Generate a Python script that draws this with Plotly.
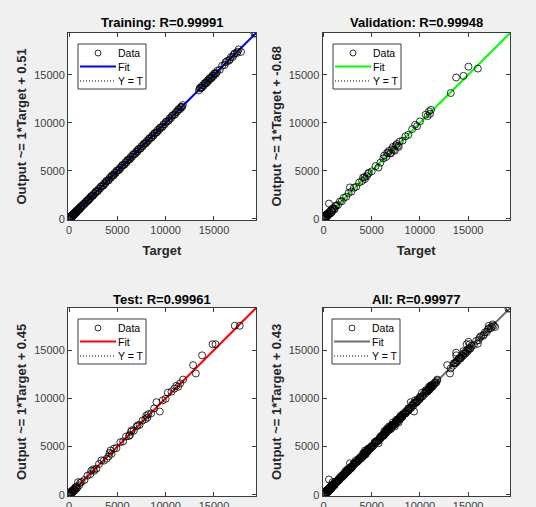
import plotly.graph_objects as go

# ---------------- data ----------------
train_target = [0, 5, 12, 20, 30, 45, 60, 75, 90, 110, 130, 150, 175, 200, 230, 260, 290, 320, 360, 400,
                440, 480, 520, 570, 620, 670, 720, 780, 840, 900, 960, 1020, 1090, 1160, 1230, 1300, 1380, 1460,
                1540, 1630, 1720, 1810, 1900, 2000, 2100, 2210, 2320, 2440, 2560, 2690, 2820, 2950, 3080, 3210,
                3350, 3490, 3630, 3770, 3910, 4050, 4190, 4330, 4470, 4600, 4720, 4850, 4980, 5120, 5260, 5400,
                5540, 5680, 5820, 5960, 6100, 6240, 6380, 6520, 6660, 6800, 6940, 7080, 7220, 7360, 7500, 7640,
                7780, 7920, 8060, 8200, 8340, 8480, 8620, 8760, 8900, 9040, 9180, 9320, 9460, 9600, 9760, 9920,
                10080, 10240, 10400, 10560, 10720, 10880, 11040, 11200, 11350, 11480, 11600, 11700, 11780,
                13450, 13580, 13700, 13820, 13950, 14080, 14200, 14330, 14460, 14580, 14700, 14820, 14950, 15080,
                15200, 15350, 15600, 15850, 16100, 16350, 16550, 16750, 16950, 17150, 17350, 17550, 17800, 19300,
                2050, 2270, 2500, 2750, 3000, 3280, 3560, 3840, 4120, 4400, 4660, 4920, 5190, 5470, 5750, 6030,
                6310, 6590, 6870, 7150, 7430, 7710, 7990, 8270, 8550, 8830, 9110, 9390, 9680, 10000, 10320,
                10640, 10960, 11280, 11550,
                15, 35, 55, 100, 140, 190, 250, 340, 420, 600, 750, 1000,
                13520, 13760, 14020, 14270, 14520, 14760, 15000, 15250, 16200, 16650, 17050, 17450, 19200]
train_output = [-110, 140, 30, -60, 210, 90, -20, 170, 40, 250, 60, 190, 90, 310, 150, 240, 380, 260, 450, 330,
                520, 400, 610, 480, 700, 590, 820, 690, 930, 820, 1060, 950, 1180, 1070, 1320, 1240, 1450, 1400,
                1620, 1560, 1790, 1750, 1980, 1930, 2160, 2150, 2400, 2390, 2620, 2650, 2900, 2880, 3150, 3160,
                3420, 3430, 3700, 3720, 3980, 3990, 4270, 4280, 4560, 4520, 4800, 4790, 5050, 5060, 5330, 5350,
                5620, 5610, 5900, 5890, 6170, 6180, 6460, 6450, 6730, 6740, 7020, 7010, 7290, 7300, 7580, 7570,
                7850, 7860, 8140, 8130, 8410, 8420, 8700, 8690, 8970, 8980, 9260, 9250, 9530, 9540, 9840, 9850,
                10150, 10180, 10470, 10500, 10800, 10820, 11110, 11150, 11430, 11420, 11680, 11640, 11850,
                13380, 13660, 13640, 13900, 13870, 14170, 14120, 14420, 14380, 14670, 14610, 14900, 14860, 15170,
                15110, 15430, 15520, 15950, 16020, 16440, 16470, 16840, 16860, 17240, 17260, 17650, 17380, 19350,
                1990, 2330, 2440, 2820, 2930, 3350, 3490, 3910, 4050, 4470, 4590, 4990, 5120, 5540, 5680, 6100,
                6240, 6660, 6800, 7220, 7360, 7780, 7920, 8340, 8480, 8900, 9040, 9460, 9610, 10070, 10250,
                10710, 10890, 11350, 11600,
                60, -30, 110, 20, 230, 120, 150, 410, 300, 650, 700, 1010,
                13600, 13700, 14100, 14200, 14600, 14700, 15080, 15200, 16300, 16600, 17120, 17400, 19280]

val_target = [0, 20, 50, 80, 110, 150, 200, 250, 310, 380, 450, 560, 600, 700, 800, 900, 1000, 1150, 1300,
              1500, 1700, 1900, 2100, 2350, 2600, 2740, 2900, 3150, 3400, 3700, 4000, 4250, 4500, 4700, 5000,
              5400, 5700, 5900, 6200, 6500, 6700, 6900, 7100, 7300, 7500, 7700, 7900, 8200, 8500, 8800, 9200,
              9500, 9700, 10000, 10600, 10800, 10950, 11050, 11150, 13200, 13760, 14520, 15040, 16010,
              10, 30, 60, 95, 130, 180, 230, 280, 350, 420, 500, 650, 750, 850, 950, 1100, 1250,
              4100, 4300, 4600, 6300, 6600, 6800, 7000, 7200, 7400, 7600, 7800]
val_output = [-80, 150, 40, 260, 120, 330, 180, 420, 260, 520, 380, 1600, 720, 560, 950, 820, 1120, 1050, 1400,
              1450, 1820, 1850, 2200, 2300, 2700, 3280, 2850, 3250, 3350, 3800, 3950, 4350, 4450, 4800, 4950,
              5500, 5350, 5850, 6300, 6450, 6850, 6800, 7250, 7200, 7650, 7600, 8050, 8150, 8600, 8750, 9350,
              9800, 9650, 10150, 10850, 10700, 11200, 10950, 11350, 13100, 14720, 14890, 15850, 15650,
              90, -40, 200, 60, 240, 70, 350, 160, 480, 300, 620, 560, 880, 700, 1040, 980, 1330,
              4300, 4150, 4700, 6600, 6900, 7100, 6850, 7500, 7100, 7800, 7500]

test_target = [0, 20, 50, 80, 120, 170, 230, 300, 380, 470, 560, 660, 780, 930, 1050, 1300, 1600, 1900, 2200,
               2500, 2830, 3100, 3350, 3600, 3900, 4200, 4400, 4650, 4900, 5300, 5600, 5900, 6200, 6400, 6700,
               7000, 7300, 7600, 7900, 8200, 8500, 8800, 9050, 9390, 9700, 10000, 10220, 10600, 10900, 11100,
               11300, 11500, 11800, 12840, 13120, 13770, 14850, 15160, 17150, 17670,
               10, 35, 65, 100, 140, 200, 260, 340, 420, 520, 610, 720, 850, 1150,
               2300, 2600, 4100, 4300, 6300, 6500, 7100, 8000, 8100]
test_output = [-60, 120, 30, 230, 90, 300, 180, 420, 300, 560, 450, 780, 680, 1320, 1000, 1350, 1550, 2000, 2150,
               2650, 2720, 3200, 3580, 3550, 3750, 4350, 4250, 4800, 4850, 5450, 5550, 6050, 6100, 6550, 6650,
               7100, 7250, 7700, 7850, 8350, 8450, 8950, 9600, 8630, 9800, 9950, 10580, 10700, 11000, 11300,
               11200, 11550, 11940, 13440, 12570, 14450, 15600, 15600, 17510, 17510,
               150, -40, 80, 220, 40, 330, 140, 450, 330, 620, 520, 850, 760, 1250,
               2500, 2500, 4000, 4600, 6200, 6700, 7200, 8200, 8000]

all_target = train_target + val_target + test_target
all_output = train_output + val_output + test_output

panel_titles = ["Training: R=0.99991", "Validation: R=0.99948", "Test: R=0.99961", "All: R=0.99977"]
fit_slope = [1, 1, 1, 1]
fit_intercept = [0.51, -0.68, 0.45, 0.43]
fit_colors = ["#0000ff", "#00ff00", "#ff0000", "#6e6e6e"]
tick_vals = [0, 5000, 10000, 15000]
tick_text = ["0", "5000", "10000", "15000"]
legend_labels = ["Data", "Fit", "Y = T"]

targets = [train_target, val_target, test_target, all_target]
outputs = [train_output, val_output, test_output, all_output]

# ---------------- layout geometry (pixels -> paper) ----------------
W, H = 536, 507
px = lambda v: v / W
py = lambda v: 1 - v / H

x_dom = [[px(68), px(256)], [px(322.5), px(510)], [px(68), px(256)], [px(322.5), px(510)]]
y_dom = [[py(220), py(33)], [py(220), py(33)], [py(496), py(308)], [py(496), py(308)]]
title_y = [py(22.5), py(22.5), py(299), py(299)]
ylab_x = [px(21), px(276), px(21), px(276)]
legend_box = [(78, 44), (333, 44), (78, 319), (332, 319)]   # top-left corner of each legend box, px

lo = min(min(all_target), min(all_output))
hi = max(max(all_target), max(all_output))

axis_col = "#3a3a3a"
font_family = "Liberation Sans, Arial, Helvetica, sans-serif"
dot_style = "1px,2px"

fig = go.Figure()
annotations = []
shapes = []
layout = dict(
    width=W, height=H, autosize=False,
    margin=dict(l=0, r=0, t=0, b=0, pad=0),
    paper_bgcolor="#f0f0f0", plot_bgcolor="white",
    font=dict(family=font_family, size=11, color="#262626"),
    showlegend=False,
)

for i in range(4):
    sfx = "" if i == 0 else str(i + 1)
    xa, ya = "x" + sfx, "y" + sfx
    b = fit_intercept[i]
    m = fit_slope[i]
    # Y = T
    fig.add_trace(go.Scatter(x=[lo, hi], y=[lo, hi], mode="lines", name=legend_labels[2],
                             line=dict(color="black", width=1, dash=dot_style),
                             xaxis=xa, yaxis=ya, hoverinfo="skip"))
    # Fit
    fig.add_trace(go.Scatter(x=[lo, hi], y=[m * lo + b, m * hi + b], mode="lines", name=legend_labels[1],
                             line=dict(color=fit_colors[i], width=2),
                             xaxis=xa, yaxis=ya, hoverinfo="skip"))
    # Data
    fig.add_trace(go.Scatter(x=targets[i], y=outputs[i], mode="markers", name=legend_labels[0],
                             marker=dict(symbol="circle-open", size=7, color="black", line=dict(width=0.8)),
                             xaxis=xa, yaxis=ya))

    common = dict(range=[lo, hi], tickvals=tick_vals, ticktext=tick_text, ticks="inside", ticklen=4,
                  tickcolor=axis_col, tickwidth=1, showline=True, linecolor=axis_col, linewidth=1,
                  mirror="allticks", showgrid=False, zeroline=False, automargin=False,
                  tickfont=dict(size=11, color="#404040", family=font_family))
    layout["xaxis" + sfx] = dict(common, domain=x_dom[i], anchor=ya)
    if i < 2:
        layout["xaxis" + sfx]["title"] = dict(text="<b>Target</b>", font=dict(size=13, color="#262626"),
                                              standoff=10)
    layout["yaxis" + sfx] = dict(common, domain=y_dom[i], anchor=xa)

    annotations.append(dict(text="<b>" + panel_titles[i] + "</b>", xref="paper", yref="paper",
                            x=sum(x_dom[i]) / 2, y=title_y[i], xanchor="center", yanchor="middle",
                            showarrow=False, font=dict(size=13, color="black")))
    ylab = "Output ~= %g*Target + %.2f" % (m, b)
    annotations.append(dict(text="<b>" + ylab + "</b>", xref="paper", yref="paper",
                            x=ylab_x[i], y=sum(y_dom[i]) / 2, xanchor="center", yanchor="middle",
                            textangle=-90, showarrow=False, font=dict(size=13, color="#262626")))

    # legend box (drawn like MATLAB's legend)
    bx, by = legend_box[i]
    shapes.append(dict(type="rect", xref="paper", yref="paper", x0=px(bx), x1=px(bx + 68),
                       y0=py(by), y1=py(by + 45), line=dict(color=axis_col, width=1), fillcolor="white",
                       layer="above"))
    rows = [by + 9, by + 22.5, by + 37]
    shapes.append(dict(type="circle", xref="paper", yref="paper", x0=px(bx + 17), x1=px(bx + 23),
                       y0=py(rows[0] - 3), y1=py(rows[0] + 3), line=dict(color="black", width=0.8),
                       layer="above"))
    shapes.append(dict(type="line", xref="paper", yref="paper", x0=px(bx + 2), x1=px(bx + 38),
                       y0=py(rows[1]), y1=py(rows[1]), line=dict(color=fit_colors[i], width=2), layer="above"))
    shapes.append(dict(type="line", xref="paper", yref="paper", x0=px(bx + 2), x1=px(bx + 36),
                       y0=py(rows[2]), y1=py(rows[2]), line=dict(color="black", width=1, dash=dot_style),
                       layer="above"))
    for r, lab in zip(rows, legend_labels):
        annotations.append(dict(text=lab, xref="paper", yref="paper", x=px(bx + 38), y=py(r),
                                xanchor="left", yanchor="middle", showarrow=False,
                                font=dict(size=10.5, color="black")))

layout["annotations"] = annotations
layout["shapes"] = shapes
fig.update_layout(**layout)
fig.write_html("out.html", config={"displayModeBar": False},
               post_script="document.body.style.margin='0px';document.body.style.overflow='hidden';")
